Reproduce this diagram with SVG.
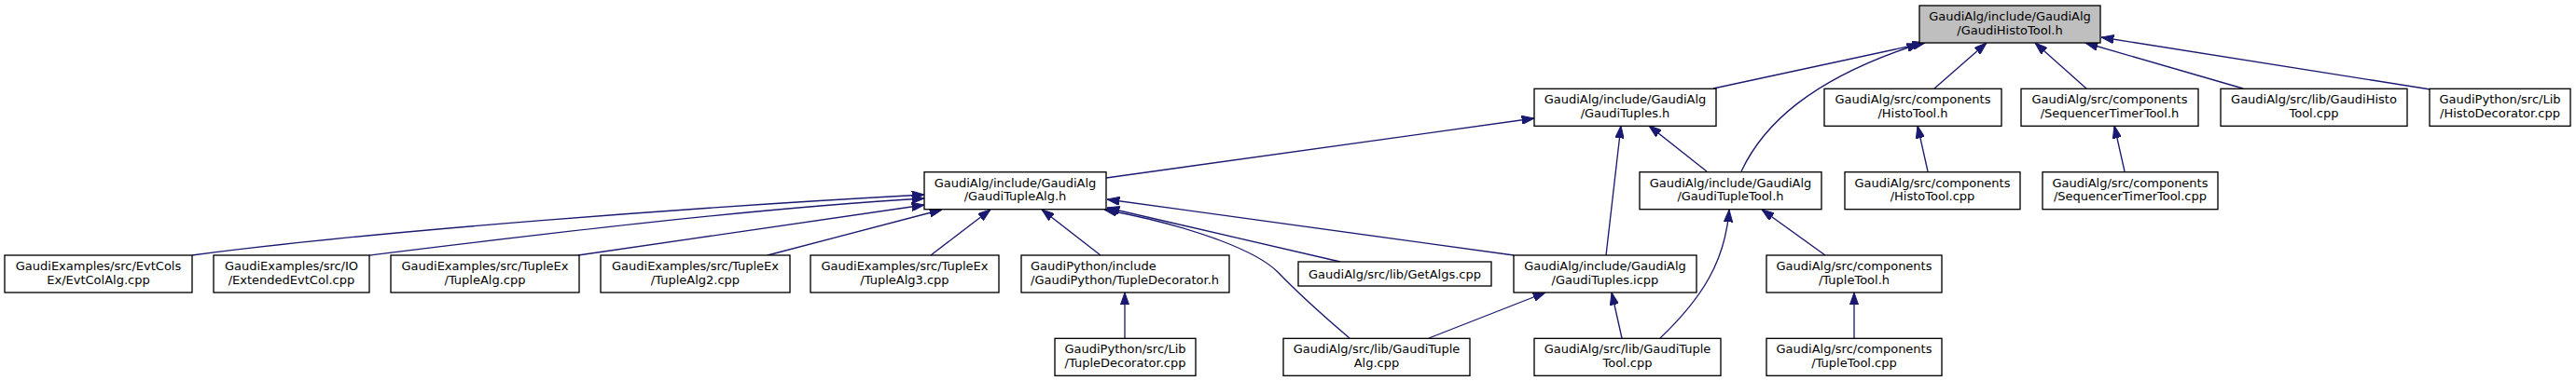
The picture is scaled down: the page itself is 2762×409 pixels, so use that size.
<svg xmlns="http://www.w3.org/2000/svg" width="2762" height="409" viewBox="0 0 2762 409">
<style>
.bg{fill:#ffffff}
.node rect{fill:#ffffff;stroke:#000000;stroke-width:1.33}
.root rect{fill:#bfbfbf}
.node text{font-family:"DejaVu Sans","Noto Sans",sans-serif;font-size:13px;fill:#000000;text-anchor:middle}
.node text.l{text-anchor:start}
.edges path{fill:none;stroke:#191970;stroke-width:1.33;marker-end:url(#arr)}
</style>
<defs>
<marker id="arr" markerUnits="userSpaceOnUse" viewBox="0 0 13.33 9.33" markerWidth="13.33" markerHeight="9.33" refX="13.33" refY="4.665" orient="auto">
<path d="M0,0 L13.33,4.665 L0,9.33 Z" fill="#191970" stroke="#191970" stroke-width="1"/>
</marker>
</defs>
<rect class="bg" x="0" y="0" width="2762" height="409"/>
<g class="edges" id="edges">
<path d="M1837,95 L2064,46"/>
<path d="M1867,184 C1890,135 1940,85 2058,47"/>
<path d="M2074,95 L2130,46"/>
<path d="M2237,95 L2182,46"/>
<path d="M2405,95 L2236,46"/>
<path d="M2606,96 L2253,40"/>
<path d="M1186,191 L1645,127"/>
<path d="M1830,184 L1768,135"/>
<path d="M1722,274 L1738,135"/>
<path d="M2067,184 L2056,135"/>
<path d="M2278,184 L2267,135"/>
<path d="M206,274 C400,248 750,222 991,209"/>
<path d="M396,274 C550,255 800,224 991,213"/>
<path d="M620,274 L991,220"/>
<path d="M823,274 L1010,225"/>
<path d="M998,274 L1062,225"/>
<path d="M1180,274 L1117,225"/>
<path d="M1437,281 L1187,223"/>
<path d="M1623,274 L1187,214"/>
<path d="M1447,363 C1420,340 1395,318 1370,292 C1350,272 1290,245 1184,225"/>
<path d="M1206,363 L1206,314"/>
<path d="M1532,363 L1657,314"/>
<path d="M1739,363 L1728,314"/>
<path d="M1780,363 C1825,320 1850,280 1854,225"/>
<path d="M1957,274 L1889,225"/>
<path d="M1988,363 L1988,314"/>
</g>
<g class="node root" id="node-GaudiHistoTool_h">
<rect x="2058" y="6" width="194" height="40"/>
<text x="2155" y="22">GaudiAlg/include/GaudiAlg</text>
<text x="2155" y="36.6">/GaudiHistoTool.h</text>
</g>
<g class="node" id="node-GaudiTuples_h">
<rect x="1645" y="95.3" width="195" height="40"/>
<text x="1742.5" y="111.3">GaudiAlg/include/GaudiAlg</text>
<text x="1742.5" y="126">/GaudiTuples.h</text>
</g>
<g class="node" id="node-HistoTool_h">
<rect x="1956" y="95.3" width="190" height="40"/>
<text x="2051" y="111.3">GaudiAlg/src/components</text>
<text x="2051" y="126">/HistoTool.h</text>
</g>
<g class="node" id="node-SequencerTimerTool_h">
<rect x="2167" y="95.3" width="190" height="40"/>
<text x="2262" y="111.3">GaudiAlg/src/components</text>
<text x="2262" y="126">/SequencerTimerTool.h</text>
</g>
<g class="node" id="node-GaudiHistoTool_cpp">
<rect x="2381" y="95.3" width="200" height="40"/>
<text x="2481" y="111.3">GaudiAlg/src/lib/GaudiHisto</text>
<text x="2481" y="126">Tool.cpp</text>
</g>
<g class="node" id="node-HistoDecorator_cpp">
<rect x="2605" y="95.3" width="151" height="40"/>
<text x="2680.5" y="111.3">GaudiPython/src/Lib</text>
<text x="2680.5" y="126">/HistoDecorator.cpp</text>
</g>
<g class="node" id="node-GaudiTupleAlg_h">
<rect x="991" y="184.7" width="195" height="40"/>
<text x="1088.5" y="200.7">GaudiAlg/include/GaudiAlg</text>
<text x="1088.5" y="215.3">/GaudiTupleAlg.h</text>
</g>
<g class="node" id="node-GaudiTupleTool_h">
<rect x="1758" y="184.7" width="195" height="40"/>
<text x="1855.5" y="200.7">GaudiAlg/include/GaudiAlg</text>
<text x="1855.5" y="215.3">/GaudiTupleTool.h</text>
</g>
<g class="node" id="node-HistoTool_cpp">
<rect x="1978" y="184.7" width="188" height="40"/>
<text x="2072" y="200.7">GaudiAlg/src/components</text>
<text x="2072" y="215.3">/HistoTool.cpp</text>
</g>
<g class="node" id="node-SequencerTimerTool_cpp">
<rect x="2190" y="184.7" width="188" height="40"/>
<text x="2284" y="200.7">GaudiAlg/src/components</text>
<text x="2284" y="215.3">/SequencerTimerTool.cpp</text>
</g>
<g class="node" id="node-EvtColAlg_cpp">
<rect x="5" y="274" width="201" height="40"/>
<text x="105.5" y="290">GaudiExamples/src/EvtCols</text>
<text x="105.5" y="304.7">Ex/EvtColAlg.cpp</text>
</g>
<g class="node" id="node-ExtendedEvtCol_cpp">
<rect x="229" y="274" width="167" height="40"/>
<text x="312.5" y="290">GaudiExamples/src/IO</text>
<text x="312.5" y="304.7">/ExtendedEvtCol.cpp</text>
</g>
<g class="node" id="node-TupleAlg_cpp">
<rect x="419" y="274" width="202" height="40"/>
<text x="520" y="290">GaudiExamples/src/TupleEx</text>
<text x="520" y="304.7">/TupleAlg.cpp</text>
</g>
<g class="node" id="node-TupleAlg2_cpp">
<rect x="644" y="274" width="203" height="40"/>
<text x="745.5" y="290">GaudiExamples/src/TupleEx</text>
<text x="745.5" y="304.7">/TupleAlg2.cpp</text>
</g>
<g class="node" id="node-TupleAlg3_cpp">
<rect x="869" y="274" width="202" height="40"/>
<text x="970" y="290">GaudiExamples/src/TupleEx</text>
<text x="970" y="304.7">/TupleAlg3.cpp</text>
</g>
<g class="node" id="node-TupleDecorator_h">
<rect x="1095" y="274" width="223" height="40"/>
<text class="l" x="1105" y="290">GaudiPython/include</text>
<text class="l" x="1105" y="304.7">/GaudiPython/TupleDecorator.h</text>
</g>
<g class="node" id="node-GetAlgs_cpp">
<rect x="1392" y="281" width="207" height="26"/>
<text x="1495.5" y="298.7">GaudiAlg/src/lib/GetAlgs.cpp</text>
</g>
<g class="node" id="node-GaudiTuples_icpp">
<rect x="1623" y="274" width="196" height="40"/>
<text x="1721" y="290">GaudiAlg/include/GaudiAlg</text>
<text x="1721" y="304.7">/GaudiTuples.icpp</text>
</g>
<g class="node" id="node-TupleTool_h">
<rect x="1894" y="274" width="188" height="40"/>
<text x="1988" y="290">GaudiAlg/src/components</text>
<text x="1988" y="304.7">/TupleTool.h</text>
</g>
<g class="node" id="node-TupleDecorator_cpp">
<rect x="1131" y="363.3" width="151" height="40"/>
<text x="1206.5" y="379.3">GaudiPython/src/Lib</text>
<text x="1206.5" y="394">/TupleDecorator.cpp</text>
</g>
<g class="node" id="node-GaudiTupleAlg_cpp">
<rect x="1376" y="363.3" width="200" height="40"/>
<text x="1476" y="379.3">GaudiAlg/src/lib/GaudiTuple</text>
<text x="1476" y="394">Alg.cpp</text>
</g>
<g class="node" id="node-GaudiTupleTool_cpp">
<rect x="1645" y="363.3" width="200" height="40"/>
<text x="1745" y="379.3">GaudiAlg/src/lib/GaudiTuple</text>
<text x="1745" y="394">Tool.cpp</text>
</g>
<g class="node" id="node-TupleTool_cpp">
<rect x="1894" y="363.3" width="188" height="40"/>
<text x="1988" y="379.3">GaudiAlg/src/components</text>
<text x="1988" y="394">/TupleTool.cpp</text>
</g>
</svg>
